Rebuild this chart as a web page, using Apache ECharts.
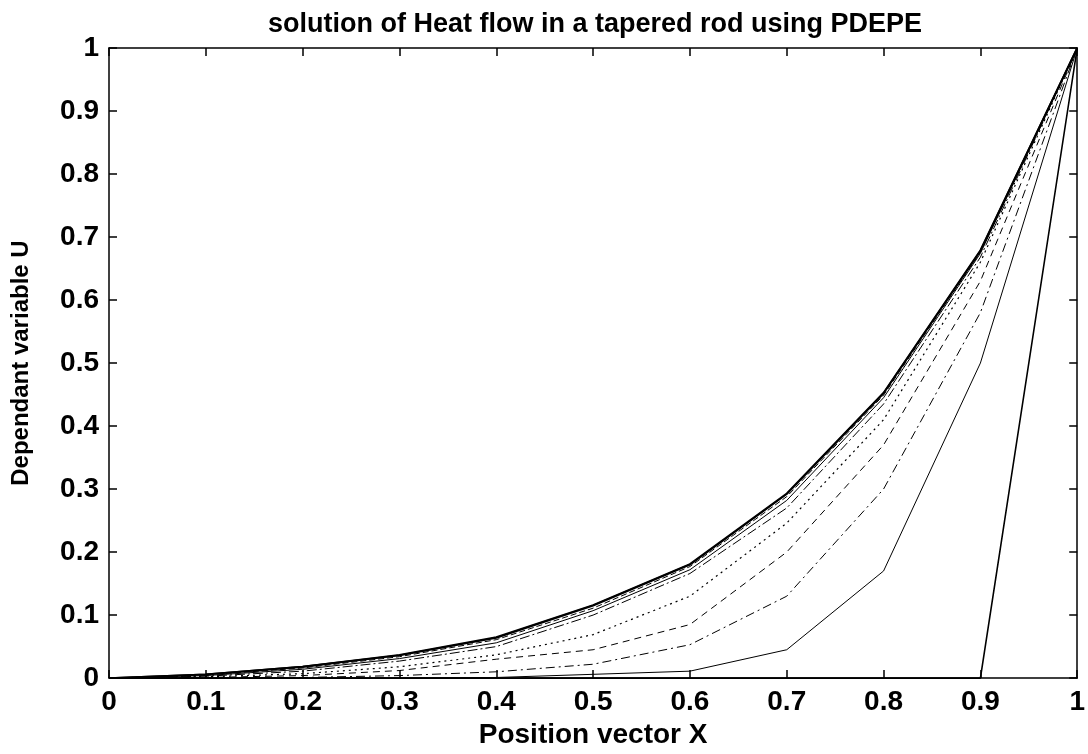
<!DOCTYPE html>
<html>
<head>
<meta charset="utf-8">
<script src="https://cdn.jsdelivr.net/npm/echarts@6/dist/echarts.min.js"></script>
<style>html,body{margin:0;padding:0;background:#fff}#c{width:1088px;height:754px}</style>
</head>
<body>
<div id="c"></div>
<script>
const xPositions = [0,0.1,0.2,0.3,0.4,0.5,0.6,0.7,0.8,0.9,1];
const u1  = [0,0,0,0,0,0,0,0,0,0,1];
const u2  = [0,0,0,0,0.001,0.006,0.011,0.045,0.17,0.5,1];
const u3  = [0,0,0.001,0.004,0.01,0.022,0.053,0.13,0.3,0.58,1];
const u4  = [0,0.001,0.004,0.012,0.03,0.045,0.085,0.2,0.37,0.63,1];
const u5  = [0,0.002,0.007,0.018,0.037,0.069,0.13,0.246,0.41,0.66,1];
const u6  = [0,0.003,0.011,0.027,0.05,0.1,0.166,0.27,0.435,0.668,1];
const u7  = [0,0.004,0.014,0.031,0.056,0.107,0.172,0.282,0.445,0.674,1];
const u8  = [0,0.005,0.016,0.034,0.061,0.111,0.177,0.288,0.449,0.676,1];
const u9  = [0,0.006,0.018,0.036,0.064,0.115,0.18,0.292,0.452,0.678,1];
const u10 = [0,0.006,0.018,0.037,0.065,0.116,0.181,0.293,0.453,0.679,1];
const xTickLabels = ['0','0.1','0.2','0.3','0.4','0.5','0.6','0.7','0.8','0.9','1'];
const yTickLabels = ['0','0.1','0.2','0.3','0.4','0.5','0.6','0.7','0.8','0.9','1'];

const curves = [
  {d:u1, t:'solid', w:1.6},
  {d:u2, t:'solid', w:1},
  {d:u3, t:[9,4,2,4], w:1},
  {d:u4, t:[7,5], w:1},
  {d:u5, t:[2,4], w:1.2},
  {d:u6, t:[10,3,2,3], w:1},
  {d:u7, t:'solid', w:1},
  {d:u8, t:[6,3], w:1},
  {d:u9, t:'solid', w:1.8},
  {d:u10, t:'solid', w:1.8}
];

const chart = echarts.init(document.getElementById('c'));
const fam = "'Liberation Sans', Arial, sans-serif";
const axisBase = {
  type:'value', min:0, max:1, interval:0.1,
  axisLine:{show:true, onZero:false, lineStyle:{color:'#000', width:1.5}},
  axisTick:{show:true, inside:true, length:8, lineStyle:{color:'#000', width:1.5}},
  splitLine:{show:false}
};
chart.setOption({
  animation:false,
  backgroundColor:'#fff',
  title:{
    text:'solution of Heat flow in a tapered rod using PDEPE',
    left:590, top:6, textAlign:'center',
    textStyle:{fontFamily:fam, fontWeight:'bold', fontSize:27, color:'#000'}
  },
  grid:{left:109, right:7, top:48, bottom:70},
  xAxis:[
    Object.assign({}, axisBase, {
      position:'bottom',
      name:'Position vector X', nameLocation:'middle', nameGap:42,
      nameTextStyle:{fontFamily:fam, fontWeight:'bold', fontSize:28, color:'#000'},
      axisLabel:{margin:10, color:'#000', fontFamily:fam, fontWeight:'bold', fontSize:28,
        formatter:(v)=>xTickLabels[Math.round(v*10)]}
    }),
    Object.assign({}, axisBase, {position:'top', axisLabel:{show:false}})
  ],
  yAxis:[
    Object.assign({}, axisBase, {
      position:'left',
      name:'Dependant variable U', nameLocation:'middle', nameGap:76,
      nameTextStyle:{fontFamily:fam, fontWeight:'bold', fontSize:24, color:'#000'},
      axisLabel:{margin:10, color:'#000', fontFamily:fam, fontWeight:'bold', fontSize:28,
        formatter:(v)=>yTickLabels[Math.round(v*10)]}
    }),
    Object.assign({}, axisBase, {position:'right', axisLabel:{show:false}})
  ],
  series: curves.map((c,i)=>({
    type:'line', xAxisIndex:0, yAxisIndex:0,
    data: xPositions.map((x,j)=>[x, c.d[j]]),
    showSymbol:false, symbol:'none', silent:true,
    lineStyle:{color:'#000', width:c.w, type:c.t}
  }))
});
</script>
</body>
</html>
